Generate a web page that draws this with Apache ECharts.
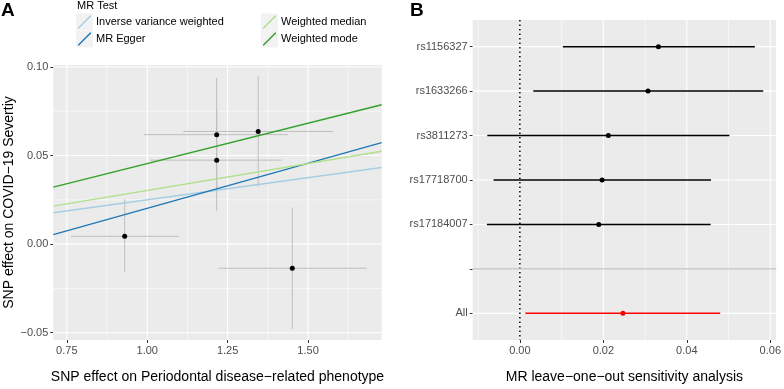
<!DOCTYPE html>
<html>
<head>
<meta charset="utf-8">
<script src="https://cdn.jsdelivr.net/npm/echarts@6/dist/echarts.min.js"></script>
<style>
    html, body { margin: 0; padding: 0; background: #fff; }
    #mrCharts { width: 784px; height: 389px; }
</style>
</head>
<body>
<div id="mrCharts"></div>
<script>
    // A: SNP 散点 + 误差线
    var snpX = [0.930, 1.451, 1.216, 1.216, 1.345];
    var snpY = [0.0044, -0.0136, 0.0618, 0.0474, 0.0636];
    var snpXLo = [0.763, 1.221, 0.990, 1.009, 1.112];
    var snpXHi = [1.099, 1.682, 1.437, 1.418, 1.578];
    var snpYLo = [-0.0158, -0.0478, 0.0298, 0.0188, 0.0325];
    var snpYHi = [0.0254, 0.0206, 0.0938, 0.0760, 0.0950];

    // MR 方法的斜率 / 截距
    var mrMethods = ['Inverse variance weighted', 'MR Egger', 'Weighted median', 'Weighted mode'];
    var mrSlope = [0.0250, 0.0509, 0.0303, 0.0455];
    var mrIntercept = [0, -0.0307, 0, 0];
    var mrColors = ['#A6CEE3', '#1F78B4', '#B2DF8A', '#33A02C'];

    var scatterXTicks = [0.75, 1.00, 1.25, 1.50];
    var scatterXMinor = [0.875, 1.125, 1.375, 1.625];
    var scatterYTicks = [-0.05, 0.00, 0.05, 0.10];
    var scatterYMinor = [-0.025, 0.025, 0.075];

    // B: leave-one-out
    var looRows = ['rs1156327', 'rs1633266', 'rs3811273', 'rs17718700', 'rs17184007', '', 'All'];
    var looSnp = ['rs1156327', 'rs1633266', 'rs3811273', 'rs17718700', 'rs17184007', 'All'];
    var looBeta = [0.0332, 0.0307, 0.0212, 0.0197, 0.0189, 0.0247];
    var looLo = [0.0103, 0.0032, -0.0078, -0.0063, -0.0079, 0.0013];
    var looHi = [0.0563, 0.0583, 0.0502, 0.0458, 0.0457, 0.0480];
    var looXTicks = [0.00, 0.02, 0.04, 0.06];
    var looXMinor = [-0.01, 0.01, 0.03, 0.05];

    var FONT = 'Liberation Sans, Arial, sans-serif';
    var xA = [0.708, 1.729], yA = [-0.0541, 0.1011];
    var xB = [-0.0113, 0.0614], yB = [0.4, 7.6];

    function fmt2(v) {
        return (v < 0 ? '\u2212' : '') + Math.abs(v).toFixed(2);
    }

    // 网格线 / 参考线，用坐标轴换算位置
    function refLines(idx, values, dir, ref, style, z) {
        return {
            type: 'custom', xAxisIndex: idx, yAxisIndex: idx, silent: true, z: z,
            data: values.map(function (v) { return dir === 'v' ? [v, ref] : [ref, v]; }),
            renderItem: function (params, api) {
                var cs = params.coordSys;
                var p = api.coord([api.value(0), api.value(1)]);
                var shape = dir === 'v'
                    ? {x1: p[0], y1: cs.y, x2: p[0], y2: cs.y + cs.height}
                    : {x1: cs.x, y1: p[1], x2: cs.x + cs.width, y2: p[1]};
                return {type: 'line', shape: shape, style: style};
            }
        };
    }

    var major = {stroke: '#fff', lineWidth: 1.1};
    var minor = {stroke: '#fff', lineWidth: 0.55};

    var errData = snpX.map(function (x, i) {
        return [x, snpY[i], snpXLo[i], snpXHi[i], snpYLo[i], snpYHi[i]];
    });
    var looData = looSnp.map(function (s, i) {
        return [looBeta[i], looRows.indexOf(s) + 1, looLo[i], looHi[i], s];
    });

    var series = [
        refLines(0, scatterXMinor, 'v', 0, minor, 1),
        refLines(0, scatterYMinor, 'h', 1, minor, 1),
        refLines(0, scatterXTicks, 'v', 0, major, 1),
        refLines(0, scatterYTicks, 'h', 1, major, 1),
        refLines(1, looXMinor, 'v', 1, minor, 1),
        refLines(1, looXTicks, 'v', 1, major, 1),
        refLines(1, [1, 2, 3, 4, 5, 6, 7], 'h', 0, major, 1),
        refLines(1, [0], 'v', 1, {stroke: '#000', lineWidth: 1.5, lineDash: [1.5, 3]}, 1.5),
        {
            type: 'custom', xAxisIndex: 0, yAxisIndex: 0, z: 2, silent: true,
            data: errData,
            renderItem: function (params, api) {
                var xl = api.coord([api.value(2), api.value(1)]);
                var xh = api.coord([api.value(3), api.value(1)]);
                var yl = api.coord([api.value(0), api.value(4)]);
                var yh = api.coord([api.value(0), api.value(5)]);
                var st = {stroke: '#BEBEBE', lineWidth: 1};
                return {
                    type: 'group', children: [
                        {type: 'line', shape: {x1: xl[0], y1: xl[1], x2: xh[0], y2: xh[1]}, style: st},
                        {type: 'line', shape: {x1: yl[0], y1: yl[1], x2: yh[0], y2: yh[1]}, style: st}
                    ]
                };
            }
        },
        {
            type: 'scatter', xAxisIndex: 0, yAxisIndex: 0, z: 3, silent: true,
            symbolSize: 5, itemStyle: {color: '#000', opacity: 1},
            data: snpX.map(function (x, i) { return [x, snpY[i]]; })
        },
        {
            type: 'custom', xAxisIndex: 1, yAxisIndex: 1, z: 2, silent: true,
            data: looData,
            renderItem: function (params, api) {
                var lo = api.coord([api.value(2), api.value(1)]);
                var hi = api.coord([api.value(3), api.value(1)]);
                var c = looData[params.dataIndex][4] === 'All' ? '#F00' : '#000';
                return {type: 'line', shape: {x1: lo[0], y1: lo[1], x2: hi[0], y2: hi[1]}, style: {stroke: c, lineWidth: 1.5}};
            }
        },
        {
            type: 'scatter', xAxisIndex: 1, yAxisIndex: 1, z: 3, silent: true,
            symbolSize: 5,
            data: looData.map(function (d) {
                return {value: [d[0], d[1]], itemStyle: {color: d[4] === 'All' ? '#F00' : '#000', opacity: 1}};
            })
        },
        refLines(1, [looRows.indexOf('') + 1], 'h', 0, {stroke: '#BEBEBE', lineWidth: 1.1}, 4)
    ];

    mrMethods.forEach(function (m, i) {
        series.push({
            type: 'line', name: m, xAxisIndex: 0, yAxisIndex: 0, z: 4, silent: true,
            showSymbol: false, color: mrColors[i],
            lineStyle: {color: mrColors[i], width: 1.4},
            itemStyle: {color: mrColors[i]},
            data: xA.map(function (x) { return [x, mrIntercept[i] + mrSlope[i] * x]; })
        });
    });

    var tickStyle = {show: true, length: 3, lineStyle: {color: '#333', width: 1}};
    var labelStyle = {color: '#4D4D4D', fontSize: 11, fontFamily: FONT};
    var nameStyle = {color: '#000', fontSize: 14, fontFamily: FONT};
    var noLine = {show: false, onZero: false};
    var keyIcon = 'path://M0,12 L12,0 L13,0 L13,1 L1,13 L0,13 Z';

    var option = {
        animation: false,
        textStyle: {fontFamily: FONT},
        title: [
            {text: 'A', left: 1, top: 1, padding: 0, textStyle: {fontSize: 19, fontWeight: 'bold', color: '#000', fontFamily: FONT}},
            {text: 'B', left: 410, top: 1, padding: 0, textStyle: {fontSize: 19, fontWeight: 'bold', color: '#000', fontFamily: FONT}},
            {text: 'MR Test', left: 77, top: 0, padding: 0, textStyle: {fontSize: 11, fontWeight: 'normal', color: '#000', fontFamily: FONT}}
        ],
        graphic: [
            {type: 'rect', left: 76, top: 13.5, z: 1, shape: {width: 17, height: 17}, style: {fill: '#F2F2F2'}},
            {type: 'rect', left: 76, top: 30.5, z: 1, shape: {width: 17, height: 17}, style: {fill: '#F2F2F2'}},
            {type: 'rect', left: 261, top: 13.5, z: 1, shape: {width: 17, height: 17}, style: {fill: '#F2F2F2'}},
            {type: 'rect', left: 261, top: 30.5, z: 1, shape: {width: 17, height: 17}, style: {fill: '#F2F2F2'}}
        ],
        legend: [
            {
                data: mrMethods.slice(0, 2), left: 78, top: 15.5, orient: 'vertical', padding: 0, z: 5,
                itemWidth: 13, itemHeight: 13, itemGap: 4, icon: keyIcon, selectedMode: false,
                textStyle: {fontSize: 11, color: '#000', fontFamily: FONT}
            },
            {
                data: mrMethods.slice(2), left: 263, top: 15.5, orient: 'vertical', padding: 0, z: 5,
                itemWidth: 13, itemHeight: 13, itemGap: 4, icon: keyIcon, selectedMode: false,
                textStyle: {fontSize: 11, color: '#000', fontFamily: FONT}
            }
        ],
        grid: [
            {left: 53.3, right: 402.3, top: 65, bottom: 42.5, show: true, backgroundColor: '#EBEBEB', borderWidth: 0},
            {left: 472.7, right: 4, top: 20, bottom: 42.5, show: true, backgroundColor: '#EBEBEB', borderWidth: 0}
        ],
        xAxis: [
            {
                gridIndex: 0, type: 'value', min: xA[0], max: xA[1],
                splitLine: {show: false}, axisLine: noLine,
                axisTick: Object.assign({customValues: scatterXTicks}, tickStyle),
                axisLabel: Object.assign({customValues: scatterXTicks, formatter: fmt2, margin: 5}, labelStyle),
                name: 'SNP effect on Periodontal disease\u2212related phenotype',
                nameLocation: 'middle', nameGap: 30, nameTextStyle: nameStyle
            },
            {
                gridIndex: 1, type: 'value', min: xB[0], max: xB[1],
                splitLine: {show: false}, axisLine: noLine,
                axisTick: Object.assign({customValues: looXTicks}, tickStyle),
                axisLabel: Object.assign({customValues: looXTicks, formatter: fmt2, margin: 5}, labelStyle),
                name: 'MR leave\u2212one\u2212out sensitivity analysis',
                nameLocation: 'middle', nameGap: 30, nameTextStyle: nameStyle
            }
        ],
        yAxis: [
            {
                gridIndex: 0, type: 'value', min: yA[0], max: yA[1],
                splitLine: {show: false}, axisLine: noLine,
                axisTick: Object.assign({customValues: scatterYTicks}, tickStyle),
                axisLabel: Object.assign({customValues: scatterYTicks, formatter: fmt2, margin: 5}, labelStyle),
                name: 'SNP effect on COVID\u221219 Severtiy',
                nameLocation: 'middle', nameGap: 25, nameTextStyle: nameStyle
            },
            {
                gridIndex: 1, type: 'value', min: yB[0], max: yB[1], inverse: true,
                splitLine: {show: false}, axisLine: noLine,
                axisTick: Object.assign({customValues: [1, 2, 3, 4, 5, 6, 7]}, tickStyle),
                axisLabel: Object.assign({
                    customValues: [1, 2, 3, 4, 5, 6, 7], margin: 5,
                    formatter: function (v) { return looRows[Math.round(v) - 1] || ''; }
                }, labelStyle)
            }
        ],
        series: series
    };

    var mrCharts = echarts.init(document.getElementById('mrCharts'));
    mrCharts.setOption(option);
    window.addEventListener('resize', function () { mrCharts.resize(); });
</script>
</body>
</html>
